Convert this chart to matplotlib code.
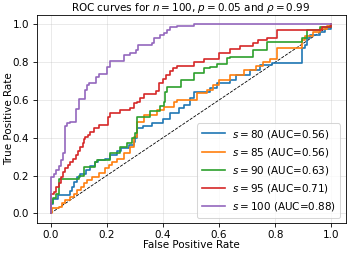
import matplotlib
matplotlib.use("Agg")
import matplotlib.pyplot as plt

# ROC curve data (fpr, tpr)
fpr_80 = [0, 0, 0.008, 0.027, 0.071, 0.077, 0.085, 0.095, 0.105, 0.125, 0.14, 0.16, 0.17, 0.195,
          0.21, 0.235, 0.25, 0.28, 0.296, 0.302, 0.308, 0.33, 0.36, 0.40, 0.426, 0.456, 0.474,
          0.497, 0.509, 0.568, 0.592, 0.64, 0.66, 0.71, 0.746, 0.79, 0.894, 0.905, 0.912, 0.924,
          0.959, 0.977, 1.0]
tpr_80 = [0, 0.05, 0.074, 0.097, 0.12, 0.14, 0.165, 0.19, 0.21, 0.23, 0.25, 0.27, 0.28, 0.29,
          0.31, 0.33, 0.345, 0.36, 0.38, 0.40, 0.45, 0.46, 0.48, 0.50, 0.53, 0.556, 0.573,
          0.608, 0.643, 0.661, 0.688, 0.705, 0.73, 0.76, 0.785, 0.797, 0.873, 0.89, 0.926, 0.943,
          0.96, 0.978, 1.0]

fpr_85 = [0, 0.004, 0.03, 0.041, 0.053, 0.071, 0.083, 0.095, 0.107, 0.118, 0.13, 0.148, 0.172,
          0.195, 0.207, 0.219, 0.237, 0.26, 0.284, 0.296, 0.308, 0.331, 0.379, 0.403, 0.438,
          0.45, 0.521, 0.557, 0.58, 0.598, 0.64, 0.687, 0.73, 0.758, 0.78, 0.805, 0.894, 0.906,
          0.935, 0.959, 0.983, 1.0]
tpr_85 = [0, 0.026, 0.035, 0.053, 0.07, 0.088, 0.10, 0.123, 0.14, 0.159, 0.176, 0.194, 0.212,
          0.238, 0.256, 0.273, 0.29, 0.317, 0.352, 0.405, 0.485, 0.52, 0.547, 0.564, 0.59,
          0.602, 0.635, 0.652, 0.679, 0.705, 0.73, 0.76, 0.78, 0.80, 0.815, 0.873, 0.917, 0.94,
          0.96, 0.975, 0.99, 1.0]

fpr_90 = [0, 0, 0.008, 0.018, 0.03, 0.1, 0.118, 0.16, 0.166, 0.213, 0.249, 0.272, 0.29, 0.302,
          0.308, 0.355, 0.39, 0.403, 0.408, 0.414, 0.465, 0.509, 0.545, 0.568, 0.592, 0.628,
          0.64, 0.722, 0.77, 0.894, 0.912, 0.96, 1.0]
tpr_90 = [0, 0.055, 0.08, 0.105, 0.18, 0.2, 0.247, 0.27, 0.282, 0.32, 0.35, 0.37, 0.40, 0.427,
          0.511, 0.54, 0.57, 0.59, 0.643, 0.67, 0.705, 0.744, 0.767, 0.776, 0.79, 0.82,
          0.829, 0.864, 0.908, 0.93, 0.97, 0.985, 1.0]

fpr_95 = [0, 0, 0.012, 0.021, 0.031, 0.038, 0.045, 0.052, 0.062, 0.07, 0.079, 0.09, 0.098,
          0.106, 0.115, 0.118, 0.124, 0.133, 0.142, 0.154, 0.172, 0.204, 0.211, 0.249, 0.284,
          0.296, 0.308, 0.32, 0.332, 0.375, 0.385, 0.40, 0.41, 0.425, 0.435, 0.45, 0.51, 0.545,
          0.598, 0.64, 0.675, 0.722, 0.74, 0.77, 0.805, 0.965, 1.0]
tpr_95 = [0, 0.10, 0.114, 0.141, 0.162, 0.194, 0.22, 0.238, 0.255, 0.27, 0.29, 0.31, 0.33,
          0.353, 0.37, 0.392, 0.406, 0.414, 0.432, 0.45, 0.467, 0.511, 0.529, 0.547, 0.56,
          0.582, 0.59, 0.61, 0.63, 0.645, 0.69, 0.71, 0.73, 0.755, 0.767, 0.78, 0.80, 0.815,
          0.846, 0.868, 0.887, 0.903, 0.917, 0.926, 0.97, 0.987, 1.0]

fpr_100 = [0, 0, 0.012, 0.02, 0.03, 0.038, 0.044, 0.052, 0.058, 0.07, 0.09, 0.102, 0.121,
           0.128, 0.137, 0.161, 0.173, 0.201, 0.211, 0.26, 0.284, 0.303, 0.31, 0.362, 0.369,
           0.39, 0.403, 0.414, 0.426, 0.45, 0.51, 1.0]
tpr_100 = [0, 0.19, 0.21, 0.23, 0.25, 0.28, 0.32, 0.46, 0.476, 0.485, 0.55, 0.606, 0.652,
           0.679, 0.691, 0.72, 0.74, 0.776, 0.807, 0.837, 0.846, 0.864, 0.89, 0.90, 0.926,
           0.943, 0.955, 0.97, 0.984, 0.99, 1.0, 1.0]

s_values = [80, 85, 90, 95, 100]
auc_values = [0.56, 0.56, 0.63, 0.71, 0.88]
fprs = [fpr_80, fpr_85, fpr_90, fpr_95, fpr_100]
tprs = [tpr_80, tpr_85, tpr_90, tpr_95, tpr_100]

DPI = 75
fig = plt.figure(figsize=(349 / DPI, 253 / DPI), dpi=DPI)
ax = fig.add_axes([0.1046, 0.1194, 0.8854, 0.8216])

ax.plot([0, 1], [0, 1], 'k--', lw=0.8)
for s, auc, f, t in zip(s_values, auc_values, fprs, tprs):
    ax.plot(f, t, drawstyle='steps-post', lw=1.6, label=f"$s = {s}$ (AUC={auc:.2f})")

ax.set_xlim(-0.05, 1.05)
ax.set_ylim(-0.05, 1.05)
ax.grid(True, alpha=0.3)
ax.set_xlabel("False Positive Rate", fontsize=10)
ax.set_ylabel("True Positive Rate", fontsize=10)
ax.xaxis.set_label_coords(0.5, -0.082)
ax.yaxis.set_label_coords(-0.074, 0.5)
ax.set_title(r"ROC curves for $n = 100$, $p = 0.05$ and $\rho = 0.99$", fontsize=10, pad=3)
ax.tick_params(labelsize=10)
ax.legend(loc='lower right', fontsize=10, handlelength=2.3, handletextpad=0.65)

fig.savefig("out.png", dpi=DPI)
